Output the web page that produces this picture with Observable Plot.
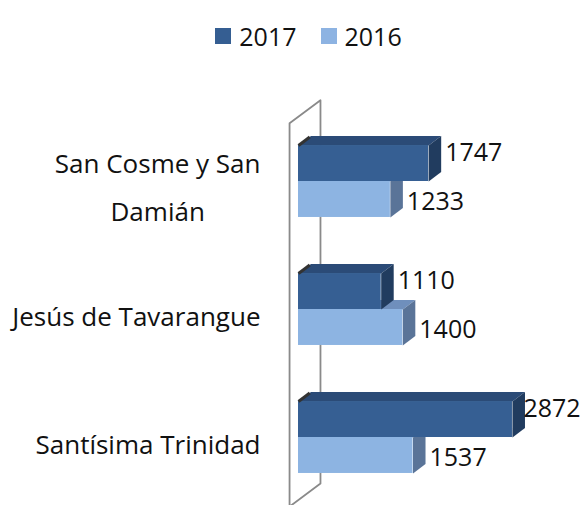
<!DOCTYPE html>
<html><head><meta charset="utf-8">
<script src="https://cdn.jsdelivr.net/npm/d3@7"></script>
<script src="https://cdn.jsdelivr.net/npm/@observablehq/plot@0.6"></script>
<style>
body{margin:0;background:#fff;font-family:"Open Sans",sans-serif;}
#legend{height:60px;box-sizing:border-box;padding-top:12px;padding-left:36px;display:flex;justify-content:center;align-items:center;font-size:25px;color:#111;}
#legend .item{display:flex;align-items:center;margin:0 12px;}
#legend .sw{width:16px;height:16px;margin-right:8px;}
#legend .lab{height:32px;line-height:32px;}
</style></head><body>
<div id="legend"></div><div id="chart"></div>
<script>
const categories = ["San Cosme y San Damián", "Jesús de Tavarangue", "Santísima Trinidad"];
const catLabels = ["San Cosme y San\nDamián", "Jesús de Tavarangue", "Santísima Trinidad"];
const years = ["2017", "2016"];
const values2017 = [1747, 1110, 2872];
const values2016 = [1233, 1400, 1537];

const colors = {
  "2017": {front: "#365F93", top: "#2B4B77", side: "#213C5F", legend: "#355E92"},
  "2016": {front: "#8DB4E2", top: "#6F8FBC", side: "#5A7498", legend: "#8DB3E2"}
};

// legend
const legend = document.getElementById("legend");
for (const y of years) {
  const it = document.createElement("div"); it.className = "item";
  const sw = document.createElement("div"); sw.className = "sw"; sw.style.background = colors[y].legend;
  const lb = document.createElement("div"); lb.className = "lab"; lb.textContent = y;
  it.append(sw, lb); legend.append(it);
}

// geometry in data units
const BAR_H = 0.281;   // bar thickness (category units)
const DEPTH_X = 168;   // 3D depth (value units)
const DEPTH_Y = 0.074; // 3D depth (category units)
const LABEL_MAX = 2965;
const CAT_FONT = 26;
const CAT_PAD = 38;

const bars = [];
categories.forEach((c, i) => {
  bars.push({cat: c, i, year: "2016", value: values2016[i], y1: i, y2: i + BAR_H});
  bars.push({cat: c, i, year: "2017", value: values2017[i], y1: i - BAR_H, y2: i});
});

function topPoly(b) {
  return [[0, b.y1], [b.value, b.y1], [b.value + DEPTH_X, b.y1 - DEPTH_Y], [DEPTH_X, b.y1 - DEPTH_Y]]
    .map(([x, y]) => ({id: b.cat + b.year, x, y}));
}
function sidePoly(b) {
  return [[b.value, b.y1], [b.value + DEPTH_X, b.y1 - DEPTH_Y], [b.value + DEPTH_X, b.y2 - DEPTH_Y], [b.value, b.y2]]
    .map(([x, y]) => ({id: b.cat + b.year, x, y}));
}

const marks = [];
// back wall (frame)
const WALL_X0 = -120, WALL_X1 = 295, WALL_Y0 = -0.455, WALL_Y1 = 2.54, WALL_DY = 0.18;
const wall = [
  {x: WALL_X0, y: WALL_Y1 + 0.3}, {x: WALL_X0, y: WALL_Y0}, {x: WALL_X1, y: WALL_Y0 - WALL_DY},
  {x: WALL_X1, y: WALL_Y1 - WALL_DY}, {x: WALL_X0, y: WALL_Y1}
];
marks.push(Plot.line(wall, {x: "x", y: "y", stroke: "#8a8a8a", strokeWidth: 1.8}));

for (const yr of ["2016", "2017"]) {
  const bs = bars.filter(b => b.year === yr);
  marks.push(Plot.line(bs.flatMap(topPoly), {x: "x", y: "y", z: "id", fill: colors[yr].top, stroke: "none"}));
  marks.push(Plot.line(bs.flatMap(sidePoly), {x: "x", y: "y", z: "id", fill: colors[yr].side, stroke: "none"}));
  marks.push(Plot.rect(bs, {x1: 0, x2: "value", y1: "y1", y2: "y2", fill: colors[yr].front}));
  if (yr === "2017") {
    marks.push(Plot.link(bs, {x1: 0, y1: "y1", x2: DEPTH_X * 0.9, y2: d => d.y1 - DEPTH_Y * 0.9, stroke: "#333", strokeWidth: 3}));
  }
  marks.push(Plot.text(bs, {
    x: d => Math.min(d.value + DEPTH_X, LABEL_MAX), y: d => (d.y1 + d.y2) / 2,
    text: d => String(d.value), textAnchor: "start", dx: 4, dy: yr === "2017" ? -11 : 3,
    fontSize: 25, fill: "#111"
  }));
}

// category labels: single-line right-aligned, wrapped ones centered on their longest line
const ctx = document.createElement("canvas").getContext("2d");
ctx.font = `${CAT_FONT}px 'Open Sans'`;
const catRows = categories.map((c, i) => {
  const lines = catLabels[i].split("\n");
  const w = Math.max(...lines.map(l => ctx.measureText(l).width));
  return {i, text: catLabels[i], multi: lines.length > 1, w};
});
marks.push(Plot.text(catRows.filter(d => !d.multi), {
  y: "i", text: "text", frameAnchor: "left", textAnchor: "end",
  dx: -CAT_PAD, dy: 8, fontSize: CAT_FONT, fill: "#111"
}));
for (const r of catRows.filter(d => d.multi)) {
  marks.push(Plot.text([r], {
    y: "i", text: "text", frameAnchor: "left", textAnchor: "middle",
    dx: -CAT_PAD - r.w / 2, dy: 0, fontSize: CAT_FONT, lineHeight: 1.85, fill: "#111"
  }));
}

const H = 445;
const chart = Plot.plot({
  width: 581, height: H,
  marginLeft: 298, marginRight: 59.5, marginTop: 121, marginBottom: H - 377,
  x: {domain: [0, 3000], axis: null},
  y: {domain: [0, 2], reverse: true, axis: null},
  style: {fontFamily: "'Open Sans', sans-serif", background: "#fff"},
  marks
});
document.getElementById("chart").append(chart);
</script>
</body></html>
